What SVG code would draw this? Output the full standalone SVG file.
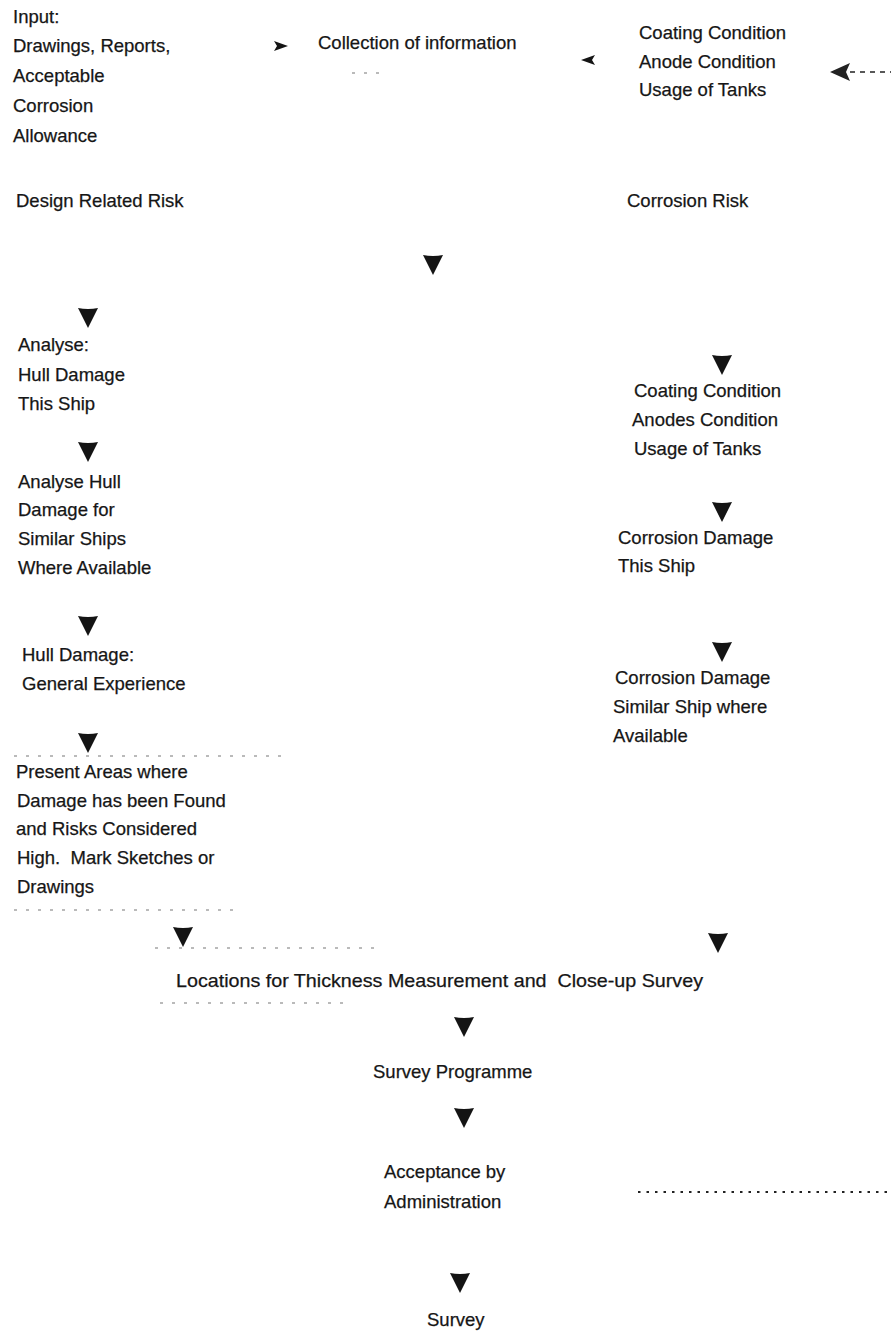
<svg xmlns="http://www.w3.org/2000/svg" xmlns:xlink="http://www.w3.org/1999/xlink" width="891" height="1335" viewBox="0 0 891 1335">
<style>
text{font-family:"Liberation Sans",Arial,sans-serif;font-size:18.5px;fill:#161616;stroke:#161616;stroke-width:0.25;dominant-baseline:central}
.dash{stroke:#777;stroke-width:1.1;fill:none;stroke-dasharray:3 9}
.dot{stroke:#222;stroke-width:2.2;fill:none;stroke-dasharray:2.5 6}
</style>
<defs>
<path id="ad" d="M-10,-10 Q0,-8 10,-10 L0,10 Z" fill="#141414"/>
<path id="ar" d="M-7,-5 L7,0 L-7,5 L-4,0 Z" fill="#141414"/>
<path id="al" d="M7,-5 L-7,0 L7,5 L4,0 Z" fill="#141414"/>
<path id="alb" d="M10,-9 L-10,0 L10,9 L6,0 Z" fill="#222"/>
</defs>
<rect width="891" height="1335" fill="#fff"/>
<g id="connectors">
<use xlink:href="#ar" x="281" y="46"/>
<use xlink:href="#al" x="588" y="60"/>
<use xlink:href="#alb" x="840" y="72"/>
<line x1="850" y1="72" x2="891" y2="72" style="stroke:#222;stroke-width:1.6;stroke-dasharray:5 5"/>
<use xlink:href="#ad" x="433" y="265"/>
<use xlink:href="#ad" x="88" y="318"/>
<use xlink:href="#ad" x="88" y="452"/>
<use xlink:href="#ad" x="88" y="626"/>
<use xlink:href="#ad" x="88" y="743"/>
<use xlink:href="#ad" x="722" y="365"/>
<use xlink:href="#ad" x="722" y="512"/>
<use xlink:href="#ad" x="722" y="652"/>
<use xlink:href="#ad" x="183" y="937"/>
<use xlink:href="#ad" x="718" y="943"/>
<use xlink:href="#ad" x="464" y="1027"/>
<use xlink:href="#ad" x="464" y="1118"/>
<use xlink:href="#ad" x="460" y="1283"/>
<line class="dash" x1="352" y1="73" x2="384" y2="73"/>
<line class="dash" x1="14" y1="756" x2="282" y2="756"/>
<line class="dash" x1="14" y1="910" x2="234" y2="910"/>
<line class="dash" x1="155" y1="948" x2="380" y2="948"/>
<line class="dash" x1="160" y1="1003" x2="345" y2="1003"/>
<line class="dot" x1="638" y1="1192" x2="891" y2="1192"/>
</g>
<g id="input">
<text x="13" y="16">Input:</text>
<text x="13" y="45">Drawings, Reports,</text>
<text x="13" y="75">Acceptable</text>
<text x="13" y="105">Corrosion</text>
<text x="13" y="135">Allowance</text>
</g>
<g id="collection"><text x="318" y="42">Collection of information</text></g>
<g id="conditions-top">
<text x="639" y="32">Coating Condition</text>
<text x="639" y="61">Anode Condition</text>
<text x="639" y="89">Usage of Tanks</text>
</g>
<g id="design-risk"><text x="16" y="200">Design Related Risk</text></g>
<g id="corrosion-risk"><text x="627" y="200">Corrosion Risk</text></g>
<g id="analyse-this">
<text x="18" y="344">Analyse:</text>
<text x="18" y="374">Hull Damage</text>
<text x="18" y="403">This Ship</text>
</g>
<g id="analyse-similar">
<text x="18" y="481">Analyse Hull</text>
<text x="18" y="509">Damage for</text>
<text x="18" y="538">Similar Ships</text>
<text x="18" y="567">Where Available</text>
</g>
<g id="hull-general">
<text x="22" y="654">Hull Damage:</text>
<text x="22" y="683">General Experience</text>
</g>
<g id="present-areas">
<text x="16" y="771">Present Areas where</text>
<text x="17" y="800">Damage has been Found</text>
<text x="16" y="828">and Risks Considered</text>
<text x="17" y="857" xml:space="preserve">High.  Mark Sketches or</text>
<text x="17" y="886">Drawings</text>
</g>
<g id="conditions-right">
<text x="634" y="390">Coating Condition</text>
<text x="632" y="419">Anodes Condition</text>
<text x="634" y="448">Usage of Tanks</text>
</g>
<g id="corrosion-this">
<text x="618" y="537">Corrosion Damage</text>
<text x="618" y="565">This Ship</text>
</g>
<g id="corrosion-similar">
<text x="615" y="677">Corrosion Damage</text>
<text x="613" y="706">Similar Ship where</text>
<text x="613" y="735">Available</text>
</g>
<g id="locations"><text x="176" y="980" xml:space="preserve" textLength="527" lengthAdjust="spacingAndGlyphs">Locations for Thickness Measurement and  Close-up Survey</text></g>
<g id="programme"><text x="373" y="1071">Survey Programme</text></g>
<g id="acceptance">
<text x="384" y="1171">Acceptance by</text>
<text x="384" y="1201">Administration</text>
</g>
<g id="survey"><text x="427" y="1319">Survey</text></g>
</svg>
